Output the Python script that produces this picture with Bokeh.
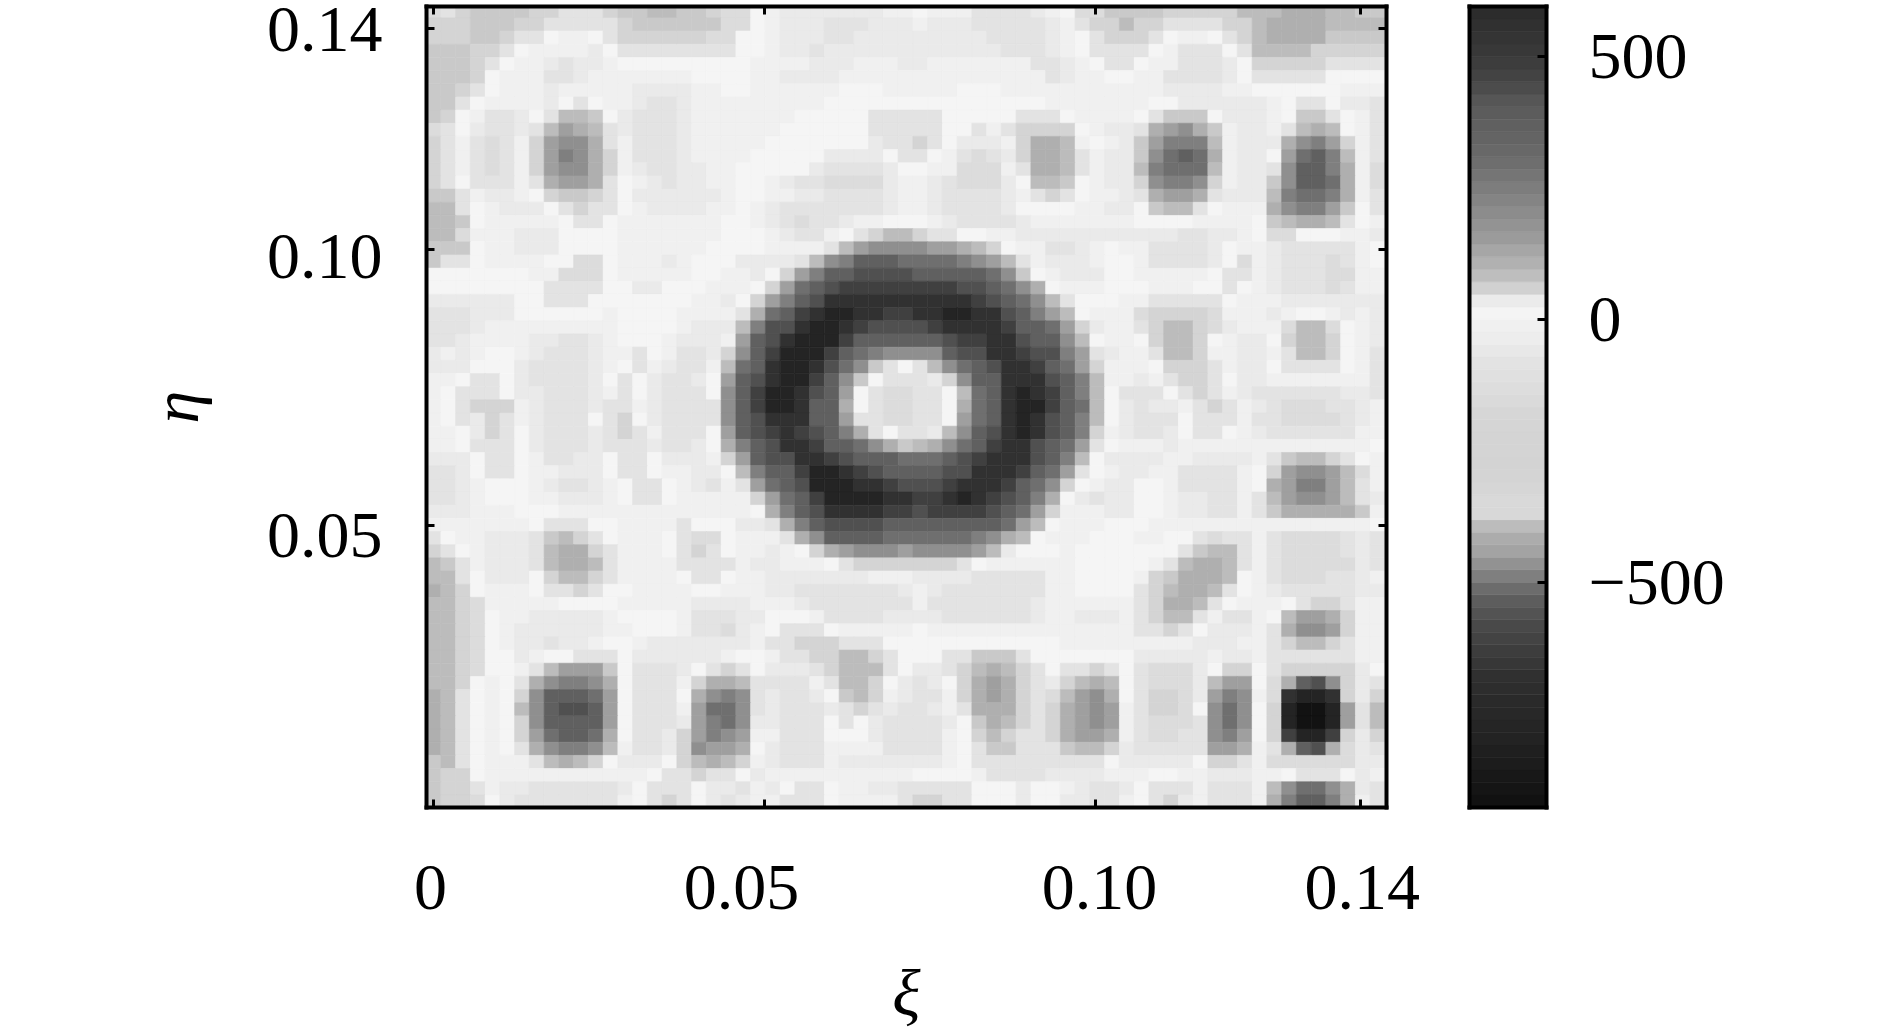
from bokeh.embed import file_html
from bokeh.resources import INLINE
from bokeh.layouts import row
from bokeh.models import (ColumnDataSource, LinearColorMapper, LinearAxis, FixedTicker,
                          Range1d)
from bokeh.plotting import figure
from bokeh.transform import transform
import numpy as np

# grey level codes -> field value
LEVEL_VALUES = {"0": 20, "1": -15, "2": -50, "3": -85, "4": -136, "5": -240, "6": -378,
                "7": -393, "8": -412, "9": -448, "a": -468, "b": -488, "c": -508,
                "d": -528, "e": -567, "f": -618, "g": -675, "h": -787, "i": -911}

# colour bar: value -> grey
CMAP_VALUES = [-928, -911, -787, -687, -588, -528, -488, -448, -408, -378, -368, -290, -190, -90,
               -40, 0, 20, 40, 60, 80, 110, 159, 209, 309, 408, 458, 500, 596]
CMAP_GREYS = [0x10, 0x12, 0x24, 0x2e, 0x48, 0x60, 0x80, 0xa0, 0xb0, 0xc8, 0xdb, 0xd3, 0xd5, 0xe2,
              0xec, 0xf2, 0xf5, 0xe8, 0xd0, 0xc0, 0xb0, 0x99, 0x8a, 0x6a, 0x5a, 0x45, 0x3a, 0x2a]

# cell rows, top row first; left part = columns 0-32, right part = columns 33-64
ROWS_LEFT = [
"435 6666 55 333 5 66 77 66 5 44 0 1222222211",
"555 666 55 33333 5 666666 44 0 1 222 333 222",
"555 66 5 33 0 11 0 3 555555 44 00 1 222 33 2222",
"666 55 3 0 11112 0 33333333 00 1 22 3 222222",
"666 5 3 0 1 1 2 3 2 2 1 000000000 1 1 1 1 2 2 2 1 1 1 2",
"666 5 0 1 1 1 3 3 2 1 1 11111 0000 1 1 2222 11111",
"66 5 3 0 1112 11111 2222 11 00 111111 000 11",
"66 3 0 1111 2 0 3 0 1 1 2 3 3 2 1 11111111 000000",
"6 5 0 1 33 2 0 3 77 6 0 2 333 2 1111111 00000 333",
"4 3 0 2 33 2 3 7 9 8 7 3 2 3332 111111 000000 333",
"5 3 1 3 4 3 1 5 9 a a 8 3 1 333 2 11111 0000000 2 3 3",
"5 3 1 3 4 3 1 5 9 b a 8 5 1 333 2 1111 00000 2222 0 3",
"5 3 1 3 4 3 1 5 9 a a 8 5 1 2 3 3 2 2 1 1 00000 2 3 333 2 0",
"5 3 0 3 3 3 1 3 8 9 9 8 3 0 1 2 3 2 2 1 1 0 0 1 2 3 3 4444 2 1",
"66 3 1 22 1 0 5 66 5 3 0 2 22222 1 0 0 1 1 2 2 3333 2 1",
"77 3 0 1 222 0 3 5 3 3 0 1 2222 1 1 0 1 2 3 3 3 3333 2 1",
"776 0 11111 0 33 0 1111111 00 1 2 3 4 3 3 2 1 1 00",
"77 4 111 222 0000 1111111 000 1 2 3 3 1 0 3 5 7 7",
"666 0 11 222 0000 111111 0000 1111 3 7 9 aaa",
"6 3 3 0 1111 00 44 0 111 2 1 000 2222 3 7 a b ddd c",
"000 0000 1 1 444 0 1111 1 0 0 1 1 2 0 5 9 b d d eeee",
"00000000 3333 00 22 000 111 0 5 9 c d e f ffff",
"222222 00 333 0000000 11 2 0 5 9 b d e g g gggg",
"333 222 000000 1 0000 1111 3 8 c d f g h h g g f f",
"333 2 111111111 0000 1 222 7 b e e g h h g f eee",
"3 3 2 1 1 1 1 2 2 3 3 2 1 0 0 0 1 2 2 2 1 9 d e g h h h f d d d d",
"2 1 2 1 0 0 1 2 3 3 3 2 1 1 3 0 1 3 3 2 5 a d f h h h f d c b a a",
"2 2 2 0 0 0 2 3 3 3 3 2 1 0 3 1 2 3 3 1 7 c d g h h g e c a 6 3 0",
"1 1 0 3 3 0 2 3 3 3 3 2 0 3 0 2 3 3 2 0 9 d e g h h f d a 6 0 3 3",
"1 0 3 3 3 0 2 2 3 3 3 2 1 3 0 2 3 3 3 0 a d f h h g e d 9 0 3 4 4",
"1 0 3 5 5 5 1 2 3 3 3 2 3 3 1 2 3 3 3 3 a d f h h g d d 8 0 3 4 4",
"1 0 3 2 5 3 1 2 3 3 3 0 3 5 0 2 3 3 3 3 a d e g g g d d 9 3 3 4 4",
"1 1 0 2 5 3 0 2 3 3 3 2 3 5 3 1 3 3 3 0 9 d e f g f e d b 8 3 0 3",
"1 1 0 3 3 3 0 2 3 3 3 2 3 3 3 2 3 3 2 0 8 b d e g g f d d c a 8 6",
"2 2 2 0 3 3 0 1 3 3 2 2 0 3 3 0 2 2 2 1 5 9 d e e g g f e d d d c",
"3 3 2 0 3 3 0 1 1 2 2 2 0 3 3 0 1 1 2 2 0 7 b d d f h h g f e d d",
"3 3 2 1 0 0 0 1 2 3 3 2 1 0 3 3 0 1 2 3 1 3 9 c d e h h h g g f e",
"3 3 2 1 0 0 0 1 1 2 2 2 1 0 3 3 0 1 1 1 1 1 5 9 c d f h h h h g g",
"2 2 2 1 1 1 0 0 0 1111111111111 0 8 b d e g g g g f f",
"1111111 0 333 00 1111 3 000 22 3 8 b d e eee d d",
"3 0 1 1 222 3 6 7 5 3 0 111 0 3 44 0 111 3 8 a dddd cc",
"5 3 0 1 2 2 2 3 7 8 8 5 3 1 1 1 0 3 5 3 0 1 1 2 1 0 5 8 9 a a a 9",
"7 6 3 1 2 2 2 3 7 8 8 7 3 1 1 1 1 3 3 3 3 1 2 2 1 1 1 0 3 5 5 5 5",
"7 7 3 0 2 2 2 0 5 7 7 5 3 1 1 1 1 0 3 3 0 1 1 2 2 2 2 2 2 2 1 1 1",
"8 7 5 0 1 1 1 0 3 3 5 3 0 0 1 1 1 1 0 0 1 1 1 2 2 3 3 3 3 3 3 3 2",
"7 7 5 4 1 1 1 1 1 0 0 0 0 1 1 1 1 1 2 2 2 2 1 1 1 2 3 3 3 3 3 3 3",
"7 7 5 4 0 1 1 2 2 2 2 2 1 0 0 0 0 1 3 3 3 2 2 0 0 0 1 3 3 3 3 2 2",
"7 7 5 4 0 1 2 2 2 2 2 2 1 1 0 0 0 1 3 3 4 2 1 0 3 3 3 0 1 1 1 1 1",
"7 7 5 4 0 1 2 2 3 2 2 1 0 0 1 2 2 2 2 2 2 2 1 3 3 5 5 5 3 3 3 0 0",
"7 7 5 4 0 0 2 1 0 0 3 3 3 0 2 2 2 2 2 2 1 0 0 1 3 3 5 5 7 7 5 3 0",
"7 7 5 4 0 0 1 3 7 9 9 9 6 0 3 3 3 2 0 3 5 3 0 2 2 2 3 5 7 7 7 3 0",
"7 7 5 0 1 0 3 8 a b b a 8 0 3 3 3 1 5 8 8 7 3 3 3 3 1 3 7 7 5 0 2",
"8 7 3 0 1 0 5 a d d d c 9 0 3 3 3 0 8 a b a 3 2 3 3 2 0 6 7 5 1 2",
"8 7 3 0 1 0 7 a d e e d 9 0 3 3 3 1 9 c c a 3 2 3 3 3 2 3 5 3 2 3",
"8 7 3 0 1 0 5 a d d d d 9 0 3 3 3 2 9 b c a 2 2 3 3 3 0 3 0 2 3 3",
"8 7 3 0 1 0 5 9 c d d c 8 0 3 3 2 5 9 b a 9 1 1 3 3 3 0 0 0 2 3 3",
"8 7 3 0 1 0 3 8 a b b a 7 1 3 3 2 5 a 9 9 8 0 2 3 3 3 1 1 1 1 3 3",
"6 7 3 0 1 1 1 3 7 8 7 5 0 2 2 2 0 5 7 8 7 5 1 2 3 3 3 1 2 2 2 2 2",
"6 5 5 0 1 1 1 1 1 1 1 1 1 1 1 0 3 3 5 3 3 0 2 1 1 1 1 1 1 1 1 1 1",
"6 5 5 3 1 2 2 3 3 3 3 3 3 2 0 3 3 3 0 2 2 3 1 2 0 3 3 0 1 1 2 2 3",
"6 5 5 4 0 2 3 3 3 3 3 3 3 1 0 3 5 3 0 2 3 2 1 1 3 3 3 0 1 1 1 1 3",
]

ROWS_RIGHT = [
"0111 3333 2 1 0 4 4 6666 555 55 77 7 888 77 66",
"1 2 2 2 3 3 3 3 3 2 1 3 5 5 7 5 5 3 3 3 3 5 5 7 8 8 8 8 7 7 7 7",
"2 2 2 2 2 3 3 3 3 2 1 0 3 5 5 5 3 0 1 1 0 3 5 7 8 8 8 8 6 6 6 6",
"2 2 2 2 2 2 3 3 3 2 1 0 3 3 3 3 0 1 3 3 3 0 3 7 7 7 7 5 5 5 5 5",
"2 1 1 1 1 1 1 1 3 3 2 1 0 3 3 0 1 1 3 3 3 2 0 5 5 5 5 5 3 3 3 3",
"111111111 3 2 1 1 0 0 1 1 3 3 3 3 2 0 3 3 3 3 3 0 0 0 0",
"1 1 1 0 0 0 1 1 1 1 1 1 1 1 1 1 1 2 2 2 2 1 1 0 0 0 0 0 0 1 1 1",
"000000000 1111111 0 0 222 222 1 0 3 3 0 2 2 3",
"3 3 00000 333 0 1111 0 3 666 0 222 1 0 6 6 3 0 1 3",
"3 3 0 0 3 1 3 5 5 5 5 0 1 2 2 3 8 9 a 8 6 1 2 2 1 3 7 8 7 0 1 3",
"5 3 0 2 2 2 1 5 8 8 7 1 0 1 2 6 9 b b b 7 1 2 2 2 8 a b 9 5 1 3",
"3 0 1 3 4 3 2 5 8 8 7 3 1 2 2 6 a c d c 8 1 2 2 0 9 c d b 7 1 3",
"0 1 1 4 4 4 1 3 8 8 7 3 1 2 2 7 b c c c 7 1 2 2 3 a d d b 8 1 4",
"1 2 3 4 4 4 2 0 7 7 6 0 1 2 2 5 a b b a 5 1 2 2 6 a d d c 8 1 4",
"1 2 3 3 3 3 2 1 3 5 3 0 1 1 2 3 8 9 9 8 3 2 2 2 7 b c c b 8 1 3",
"1 2 3 3 3 3 2 0 0 0 0 1 1 2 2 0 6 7 7 3 0 1 1 1 8 a b b 9 6 0 3",
"0 1 2 3 3 3 3 2 1 1 1 1 1 1 1 0 0 0 0 1 1 1 1 0 6 7 8 8 7 3 0 1",
"5 3 3 0 0 1 1 22222222222 3 3 2 2 1 0 4 4 0 0 0 1 1 2",
"a 9 9 8 7 5 0 1 1 3 3 2 1 0 1 1 3 3 3 3 2 0 1 1 2 3 3 3 3 3 1 0",
"c c c b a 9 7 3 1 2 2 2 1 0 0 1 3 3 3 3 2 0 4 1 2 3 3 3 4 3 1 0",
"d d d d d c a 6 0 1 2 2 2 0 0 1 1 1 1 1 0 3 3 1 2 3 3 3 4 4 1 1",
"f f f e e d c a 8 0 1 1 1 0 0 0 1 1 1 0 0 3 0 1 2 3 3 3 4 3 1 1",
"g g g g f e d c a 7 3 0 0 0 1 1 3 3 3 3 3 0 1 1 1 2 2 2 2 2 2 2",
"g g h h g g e d b 9 7 0 1 1 1 4 5 5 5 5 4 1 1 1 2 1 0 0 1 2 1 2",
"e f g g g g f d d c 9 5 2 1 1 3 5 7 7 5 4 2 1 1 1 4 7 7 4 0 1 2",
"d d e f f g g e d d a 7 0 1 1 0 5 7 7 5 0 1 2 2 0 5 7 7 5 0 1 2",
"a a d e e g g f e e b 9 3 2 1 1 3 7 7 5 1 1 2 2 1 3 7 7 5 0 1 3",
"3 7 a c d e g g f d c 9 5 1 1 1 0 5 5 5 3 1 2 2 0 3 3 3 3 0 1 3",
"3 2 5 a d d g g g e d b 7 1 1 2 1 3 5 5 3 0 2 2 1 1 1 1 1 1 1 3",
"3 3 0 7 c d g h g f d b 7 0 3 3 3 0 3 5 3 1 2 3 3 3 3 3 3 2 2 3",
"3 3 0 8 c d g h h f d c 7 0 2 3 2 2 1 3 5 3 1 2 3 4 4 4 3 3 2 1",
"3 3 0 9 c d g h g e d b 7 0 2 3 3 3 0 3 3 3 1 3 3 4 4 4 4 3 2 1",
"3 2 7 a d e g h g e d b 5 1 2 3 3 2 0 3 3 0 1 2 3 3 3 3 3 3 1 1",
"7 8 a c d f g g e d c 9 3 0 1 1 1 2 1 1 1 1 1 1 1 1 1 1 1 1 1 0",
"c c d e f g g g e d b 7 0 2 2 2 2 1 1 2 2 2 2 1 3 6 7 7 5 3 0 1",
"d d e e g g g f d c 9 3 0 1 2 2 1 1 3 3 3 3 1 0 5 9 a a 9 7 4 1",
"e e f g g g f d c a 5 0 1 2 2 0 0 1 3 3 3 3 1 0 8 9 b b 9 7 3 1",
"f f g h g f e d b 8 0 2 3 2 2 0 0 1 2 2 3 3 1 3 7 9 a a 9 7 3 2",
"e f f f f e d c 9 5 1 1 1 2 2 0 0 1 2 2 3 3 1 3 6 8 8 8 8 8 6 1",
"dddddd c 9 7 0 111 000 111111111111111 0",
"c c c c b a 8 7 0 1 1 1 0 0 0 1 1 0 0 3 4 3 3 1 3 4 4 4 4 3 2 3",
"a a a a 9 7 2 0 0 0 1 0 0 0 0 0 0 0 3 6 7 7 3 1 3 4 4 4 4 3 2 3",
"5 5 5 3 0 1 1 1 1 1 1 0 0 0 0 0 1 3 7 8 8 7 3 1 3 4 4 4 4 4 2 3",
"2 2 2 2 3 3 3 3 3 1 1 0 0 0 0 1 5 6 8 8 8 7 0 1 3 4 4 4 3 3 2 1",
"1 2 3 3 3 3 3 3 3 1 1 0 0 0 0 3 5 7 8 8 7 3 0 1 2 3 3 3 3 3 2 2",
"1 3 3 3 3 3 3 3 2 1 1 1 1 1 1 3 5 8 8 7 3 0 1 1 1 0 3 5 5 3 1 1",
"2 2 3 3 3 3 3 3 2 1 1 2 2 2 1 3 5 7 7 3 1 3 3 1 0 7 9 9 8 5 1 1",
"0 1 1 1 1 1 1 1 1 1 1 1 1 1 1 3 3 5 3 0 2 2 2 1 3 8 a a 9 5 1 1",
"0000000000 111111111 2 2 2 1 1 3 5 7 7 5 3 1 1",
"0 0 3 3 6 6 6 3 0 0 0 0 0 0 0 2 2 2 2 2 1 2 2 1 3 3 3 3 3 3 1 1",
"2 2 3 5 7 8 7 5 3 0 3 3 5 3 0 3 4 4 4 2 0 5 5 0 3 5 5 5 5 5 2 0",
"3 2 0 5 8 9 8 5 3 2 5 7 8 7 0 3 4 4 4 2 7 9 9 0 4 8 d e a 5 2 3",
"3 3 1 5 8 9 8 5 3 4 7 9 a 8 0 3 5 5 4 2 9 b a 1 4 g h h g 5 2 5",
"3 2 1 3 8 8 8 5 3 5 8 9 a 9 1 3 5 5 4 0 a c a 0 5 h i i h 9 3 7",
"3 3 2 0 6 8 7 5 3 5 8 9 a 9 1 3 4 4 4 3 a c a 0 5 h i i h 9 3 7",
"3 3 1 0 5 7 5 3 3 5 8 9 9 8 1 3 4 4 3 3 a b 9 0 5 f h h f 5 2 5",
"3 3 1 0 3 6 6 3 3 3 6 7 7 5 2 3 3 3 3 3 9 9 8 1 3 8 d e 8 4 2 3",
"2 2 1 0 3 3 3 3 3 3 3 3 3 0 2 2 2 2 2 0 5 5 3 1 4 4 4 4 4 4 2 2",
"0 0 0 0 1 3 3 3 3 2 2 2 2 1 1 1 0 0 1 1 2 2 2 1 1 0 3 3 3 0 2 1",
"3 3 3 3 0 0 0 2 0 0 1 2 3 3 2 0 3 3 3 1 3 3 3 1 7 a c c a 8 2 3",
"5 5 3 3 0 0 0 2 0 0 2 2 3 3 1 0 3 5 2 1 3 3 3 1 8 b d d b 8 1 3",
]

X_TICKS = [0, 0.05, 0.10, 0.14]
Y_TICKS = [0.05, 0.10, 0.14]
X_TICK_LABELS = ["0", "0.05", "0.10", "0.14"]
Y_TICK_LABELS = ["0.05", "0.10", "0.14"]
CB_TICKS = [-500, 0, 500]
CB_TICK_LABELS = {-500: "\u2212500", 0: "0", 500: "500"}
X_LABEL = "\u03be"
Y_LABEL = "\u03b7"

FONT = "Liberation Serif"
BLACK = "#000000"

# ---- decode
rows_l = [r.replace(" ", "") for r in ROWS_LEFT]
rows_r = [r.replace(" ", "") for r in ROWS_RIGHT]
for i, (a, b) in enumerate(zip(rows_l, rows_r)):
    if len(a) != 33 or len(b) != 32:
        raise SystemExit(f"row {i}: {len(a)} {len(b)}")
assert len(rows_l) == 61 and len(rows_r) == 61
grid = [[LEVEL_VALUES[ch] for ch in a + b] for a, b in zip(rows_l, rows_r)]

VMIN, VMAX = CMAP_VALUES[0], CMAP_VALUES[-1]
vs = np.linspace(VMIN, VMAX, 768)
gs = np.interp(vs, CMAP_VALUES, CMAP_GREYS).round().astype(int)
palette = ["#%02x%02x%02x" % (g, g, g) for g in gs]
mapper = LinearColorMapper(palette=palette, low=VMIN, high=VMAX)

# ---- geometry of the main panel (pixels -> data)
FW, FH = 960, 801
FL, FT = 427, 7
X0_PX, X_SCALE = 434.0, 6620.0
Y0_PX, Y_SCALE = 802.0, 5520.0
x_range = Range1d((FL - X0_PX) / X_SCALE, (FL + FW - X0_PX) / X_SCALE)
y_range = Range1d((Y0_PX - FT - FH) / Y_SCALE, (Y0_PX - FT) / Y_SCALE)

DX = 14.75 / X_SCALE
DY = 13.17 / Y_SCALE
l, r, t, b, v = [], [], [], [], []
n_rows = len(grid)
for i, vals in enumerate(grid):
    yc = (n_rows - 1 - i) * DY
    for j, val in enumerate(vals):
        xc = j * DX
        l.append(xc - DX / 2); r.append(xc + DX / 2)
        b.append(yc - DY / 2); t.append(yc + DY / 2)
        v.append(val)
src = ColumnDataSource(dict(l=l, r=r, t=t, b=b, v=v))

PH = 1022
p = figure(width=1440, height=PH, x_range=x_range, y_range=y_range,
           output_backend="svg", toolbar_location=None, tools="",
           x_axis_location=None, y_axis_location=None,
           frame_width=FW, frame_height=FH,
           min_border_left=FL, min_border_top=FT,
           min_border_right=1440 - FL - FW, min_border_bottom=PH - FT - FH,
           background_fill_color="#ffffff", border_fill_color="#ffffff")
p.grid.visible = False
c = transform("v", mapper)
p.quad(left="l", right="r", top="t", bottom="b", source=src,
       fill_color=c, line_color=c, line_width=0.6)
p.outline_line_color = None


def tick_axis(ticks):
    """Frame side: black line with inward ticks, no texts."""
    return LinearAxis(ticker=FixedTicker(ticks=ticks),
                      major_label_overrides={float(k): "" for k in ticks},
                      major_tick_in=8, major_tick_out=0, major_tick_line_width=3,
                      major_tick_line_color=BLACK, minor_tick_line_color=None,
                      axis_line_color=BLACK, axis_line_width=4, axis_line_cap="square",
                      major_label_standoff=0, major_label_text_font_size="1px")


def label_axis(positions, texts, standoff, label, label_standoff):
    """Outer axis: carries the tick texts (at the reference's slightly shifted places)."""
    ax = LinearAxis(ticker=FixedTicker(ticks=positions),
                    major_label_overrides={float(k): s for k, s in zip(positions, texts)},
                    major_tick_in=0, major_tick_out=0, major_tick_line_color=None,
                    minor_tick_line_color=None, axis_line_color=None,
                    major_label_standoff=standoff, major_label_text_font=FONT,
                    major_label_text_font_size="66px", major_label_text_color=BLACK)
    ax.axis_label = label
    ax.axis_label_text_font = FONT
    ax.axis_label_text_font_size = "66px"
    ax.axis_label_text_font_style = "italic"
    ax.axis_label_text_color = BLACK
    ax.axis_label_standoff = label_standoff
    return ax


X_NUDGE_PX = [-3, -23, 4, 2]
Y_NUDGE_PX = [-10, -7, -1]
x_label_pos = [t_ + d / X_SCALE for t_, d in zip(X_TICKS, X_NUDGE_PX)]
y_label_pos = [t_ + d / Y_SCALE for t_, d in zip(Y_TICKS, Y_NUDGE_PX)]

p.add_layout(tick_axis(X_TICKS), "below")
p.add_layout(tick_axis(Y_TICKS), "left")
p.add_layout(tick_axis(X_TICKS), "above")
p.add_layout(tick_axis(Y_TICKS), "right")
p.add_layout(label_axis(x_label_pos, X_TICK_LABELS, 58, X_LABEL, 44), "below")
p.add_layout(label_axis(y_label_pos, Y_TICK_LABELS, 44, Y_LABEL, 52), "left")

# ---- colour bar panel
CB_W = 1880 - 1440
CB_L, CB_FW = 30, 77
cb_scale = 263.0 / 500.0
cb_range = Range1d((320 - (FT + FH)) / cb_scale, (320 - FT) / cb_scale)
cb = figure(width=CB_W, height=PH, x_range=(0, 1), y_range=cb_range,
            output_backend="svg", toolbar_location=None, tools="",
            x_axis_location=None, y_axis_location=None,
            frame_width=CB_FW, frame_height=FH,
            min_border_left=CB_L, min_border_top=FT,
            min_border_right=CB_W - CB_L - CB_FW, min_border_bottom=PH - FT - FH,
            background_fill_color="#ffffff", border_fill_color="#ffffff")
cb.grid.visible = False
levels = np.linspace(cb_range.start, cb_range.end, 65)
cb_src = ColumnDataSource(dict(b=levels[:-1], t=levels[1:], v=(levels[:-1] + levels[1:]) / 2,
                               l=[0] * 64, r=[1] * 64))
cb.quad(left="l", right="r", bottom="b", top="t", source=cb_src,
        fill_color=c, line_color=c, line_width=0.6)
cb.outline_line_color = None


def plain_side():
    return LinearAxis(ticker=FixedTicker(ticks=[]), major_tick_line_color=None,
                      minor_tick_line_color=None, axis_line_color=BLACK, axis_line_width=4,
                      axis_line_cap="square", major_label_text_font_size="1px",
                      major_label_standoff=0)


cb.add_layout(plain_side(), "left")
cb.add_layout(plain_side(), "above")
cb.add_layout(plain_side(), "below")
cb_axis = LinearAxis(ticker=FixedTicker(ticks=CB_TICKS),
                     major_label_overrides={float(k): s for k, s in CB_TICK_LABELS.items()},
                     major_tick_in=9, major_tick_out=0, major_tick_line_width=3,
                     major_tick_line_color=BLACK, minor_tick_line_color=None,
                     axis_line_color=BLACK, axis_line_width=4, axis_line_cap="square",
                     major_label_standoff=42,
                     major_label_text_font=FONT, major_label_text_font_size="66px",
                     major_label_text_color=BLACK)
cb.add_layout(cb_axis, "right")

page = row(p, cb, margin=(-1, 0, 0, -1))
open("out.html", "w").write(file_html(page, INLINE))
